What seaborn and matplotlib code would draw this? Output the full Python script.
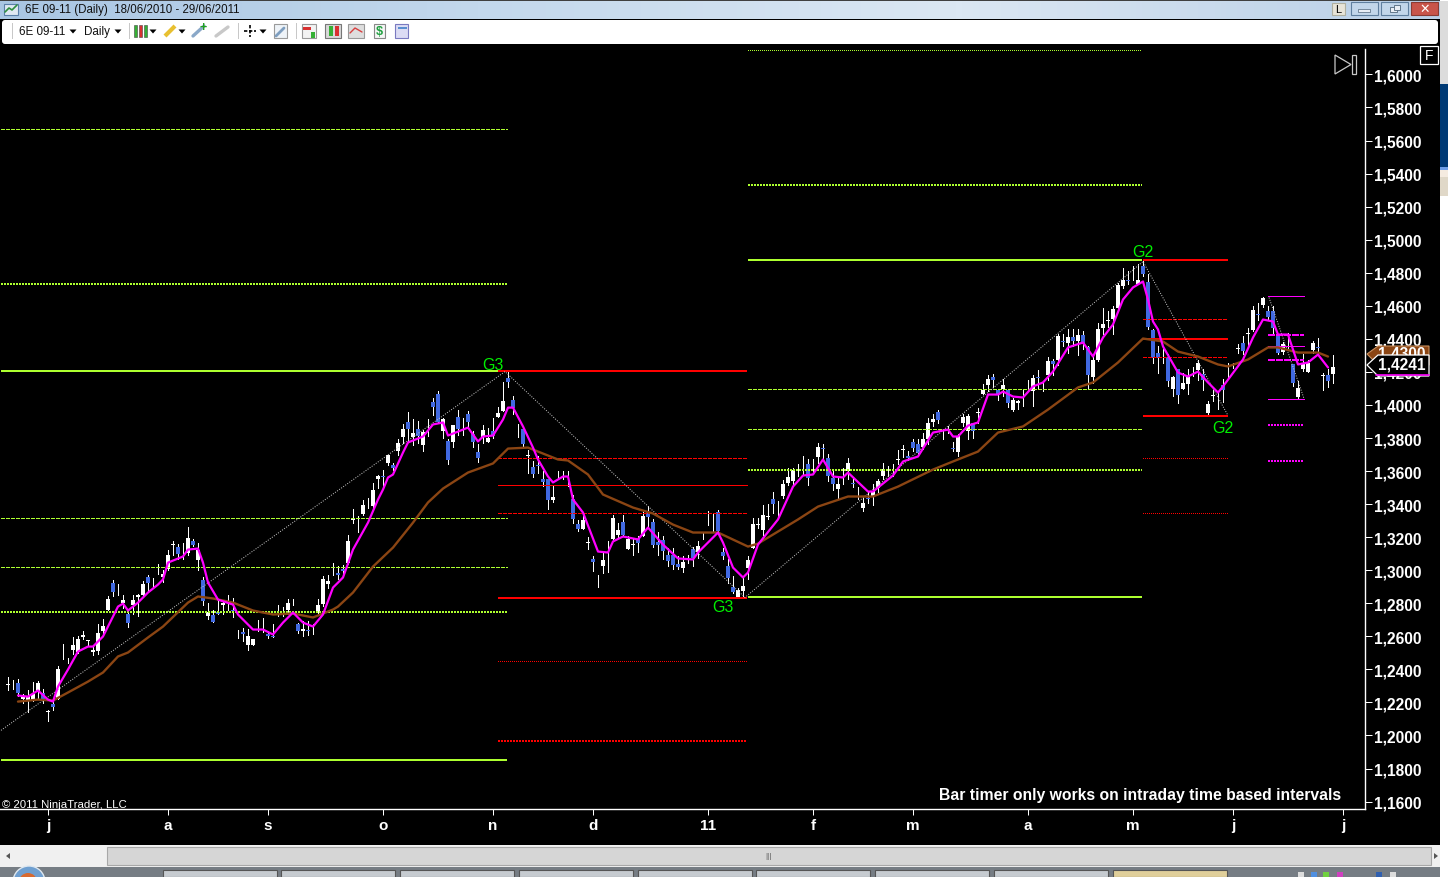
import numpy as np
import pandas as pd
import seaborn as sns
import matplotlib
matplotlib.use('Agg')
import matplotlib.pyplot as plt
from matplotlib.patches import Rectangle, Polygon, FancyBboxPatch

# -------------------------------------------------------
# 1. DATA - all prices in pips (1/10000), one entry per daily bar
# -------------------------------------------------------
opens = [12308,12308,12315,12218,12208,12214,12268,12258,12143,12190,12218,12505,12453,12520,12504,12595,12571,12508,12510,12635,
         12762,12920,12884,12799,12732,12791,12835,12853,12960,12924,13006,12956,13010,13154,13140,13115,13105,13178,13061,12938,
         12722,12728,12746,12791,12808,12760,12615,12625,12545,12545,12663,12670,12617,12601,12755,12750,12762,12807,12672,12631,
         12641,12640,12742,12793,12914,13010,12984,13010,13045,13305,13280,13343,13408,13388,13553,13571,13650,13636,13720,13805,
         13896,13807,13855,13755,13862,14017,14067,13841,13779,13775,13928,13870,13946,13827,13718,13807,13775,13845,13930,13962,
         14164,14033,13845,13857,13694,13626,13636,13549,13553,13424,13575,13576,13555,13428,13277,13252,13164,13065,12938,13028,
         13080,13190,13216,13293,13131,13154,13186,13210,13351,13289,13168,13182,13091,13091,13035,13012,13068,13131,13109,13206,
         13317,13295,13353,13109,13028,12897,12833,12873,13014,13135,13275,13246,13323,13428,13360,13448,13525,13539,13605,13637,
         13640,13627,13686,13737,13676,13559,13493,13570,13600,13527,13467,13374,13436,13452,13499,13573,13600,13605,13668,13729,
         13694,13775,13761,13747,13791,13896,13955,13825,13850,13739,13715,13888,13842,13888,13951,14068,14118,14172,14088,14094,
         14088,13969,14009,14040,14120,14084,14170,14110,14179,14263,14275,14384,14372,14413,14384,14421,14352,14171,14275,14463,
         14511,14521,14588,14719,14757,14800,14733,14840,14745,14451,14316,14295,14290,14098,14219,14098,14124,14203,14211,14185,
         13953,14056,14027,14118,14229,14237,14338,14376,14429,14451,14550,14606,14566,14566,14427,14322,14385,14245,14050,14215,
         14199,14330,14348,14177,14183,14185]
closes = [12310,12308,12258,12238,12238,12248,12315,12222,12147,12175,12403,12505,12453,12545,12581,12607,12575,12520,12621,12662,
          12823,12871,12884,12817,12678,12817,12847,12914,12920,12924,13010,12980,13095,13158,13101,13115,13196,13154,13125,12813,
          12746,12686,12738,12803,12808,12754,12615,12617,12601,12581,12663,12670,12601,12597,12755,12750,12803,12807,12631,12647,
          12631,12640,12787,12944,12932,13010,12974,12994,13176,13309,13280,13392,13408,13488,13569,13567,13696,13617,13767,13857,
          13857,13831,13815,13837,13862,13985,13898,13912,13666,13878,13855,13870,13898,13775,13682,13847,13801,13815,13952,14021,
          14138,13983,13845,13761,13698,13585,13632,13533,13422,13446,13575,13576,13555,13307,13250,13303,13168,13049,12942,13059,
          13080,13313,13246,13216,13186,13158,13162,13331,13321,13152,13152,13115,13053,13033,13020,13051,13068,13071,13146,13206,
          13317,13299,13236,13089,12954,12867,12883,12903,13059,13277,13279,13337,13327,13398,13360,13523,13565,13604,13605,13637,
          13559,13627,13747,13733,13569,13519,13519,13570,13650,13523,13467,13408,13432,13479,13539,13614,13600,13605,13672,13733,
          13682,13737,13707,13791,13888,13918,13906,13825,13850,13735,13812,13926,13933,13842,13955,14088,14158,14148,14060,14118,
          14009,14029,14023,14040,14120,14164,14166,14110,14265,14245,14417,14380,14413,14384,14421,14366,14179,14271,14457,14487,
          14515,14582,14723,14759,14753,14800,14759,14790,14471,14285,14285,14295,14144,14171,14058,14130,14171,14203,14255,14154,
          14003,14060,14031,14090,14233,14237,14342,14326,14433,14572,14546,14645,14532,14467,14316,14366,14385,14130,14100,14255,
          14255,14372,14344,14181,14144,14231]
highs = [12355,12333,12339,12252,12278,12325,12329,12282,12157,12218,12420,12551,12470,12597,12601,12635,12575,12541,12672,12706,
         12843,12938,12914,12853,12756,12853,12859,12934,12974,12954,13035,13004,13125,13178,13156,13166,13263,13186,13162,12960,
         12803,12762,12813,12813,12853,12833,12641,12651,12645,12581,12696,12712,12631,12672,12787,12779,12823,12823,12678,12692,
         12692,12672,12823,12964,12968,13045,13025,13031,13216,13373,13327,13422,13438,13525,13579,13605,13700,13650,13795,13882,
         13956,13912,13902,13851,13916,14043,14087,13922,13791,13878,13972,13922,13962,13841,13761,13876,13862,13922,13987,14138,
         14204,14053,13882,13862,13730,13660,13694,13599,13553,13509,13599,13603,13599,13458,13301,13327,13200,13089,12974,13115,
         13176,13337,13287,13337,13206,13186,13206,13351,13388,13307,13230,13206,13135,13135,13085,13085,13095,13141,13176,13226,
         13361,13343,13367,13135,13065,12964,12893,12964,13085,13317,13317,13397,13403,13475,13418,13543,13620,13620,13640,13694,
         13674,13674,13771,13761,13701,13610,13570,13620,13680,13559,13505,13438,13479,13523,13549,13650,13630,13640,13725,13757,
         13721,13795,13791,13832,13922,13947,13967,13852,13872,13775,13822,13947,13943,13892,13983,14128,14179,14185,14094,14158,
         14094,14043,14033,14090,14154,14179,14209,14134,14290,14279,14427,14427,14457,14457,14457,14447,14356,14296,14493,14588,
         14568,14598,14739,14826,14810,14840,14850,14880,14790,14457,14356,14336,14306,14175,14219,14195,14215,14231,14275,14215,
         14023,14090,14070,14158,14255,14251,14366,14417,14467,14598,14618,14655,14598,14598,14427,14380,14437,14245,14144,14306,
         14275,14386,14407,14191,14219,14300]
lows = [12274,12282,12238,12198,12141,12208,12218,12198,12087,12157,12218,12460,12436,12490,12500,12585,12541,12486,12490,12611,
        12762,12843,12853,12772,12655,12732,12722,12843,12873,12893,12980,12928,13004,13095,13065,13065,13095,13146,13000,12787,
        12702,12686,12738,12736,12762,12718,12589,12571,12520,12545,12631,12627,12591,12595,12722,12722,12732,12791,12621,12601,
        12607,12611,12742,12783,12893,12974,12944,12964,13035,13287,13230,13333,13377,13377,13498,13498,13634,13605,13700,13771,
        13781,13757,13771,13720,13811,13942,13892,13801,13642,13745,13821,13821,13862,13745,13654,13771,13775,13801,13928,13962,
        14110,13948,13807,13740,13589,13565,13589,13509,13373,13412,13549,13549,13509,13287,13240,13252,13131,12994,12897,12984,
        12988,13186,13202,13206,13131,13091,13109,13206,13267,13141,13091,13069,13028,13008,13010,12990,13041,13024,13071,13186,
        13273,13236,13236,13065,12924,12863,12833,12833,12944,13135,13256,13216,13307,13348,13307,13438,13513,13519,13570,13580,
        13513,13580,13650,13680,13539,13485,13432,13519,13549,13505,13428,13358,13408,13394,13473,13549,13570,13570,13640,13686,
        13666,13721,13691,13731,13761,13872,13892,13795,13828,13721,13694,13872,13795,13801,13892,14064,14084,14110,14033,14054,
        13989,13963,13973,13993,14084,13993,14104,14084,14150,14179,14239,14356,14312,14356,14300,14336,14094,14134,14265,14427,
        14473,14427,14578,14709,14729,14759,14729,14780,14457,14255,14195,14255,14114,14054,14009,14094,14064,14175,14154,14090,
        13943,14023,13977,14017,14164,14223,14316,14306,14356,14447,14517,14594,14517,14437,14306,14306,14336,14114,14043,14205,
        14199,14316,14316,14090,14108,14130]

fast_bars = [2,4,6,8,9,10,12,14,16,17,19,22,23,24,26,28,30,31,32,35,36,38,39,40,42,45,46,49,51,53,55,57,59,61,63,65,66,67,69,72,
             74,75,76,77,79,80,83,85,87,88,92,94,95,97,99,100,101,103,105,106,108,109,111,112,113,115,118,120,121,123,126,128,131,
             134,137,138,142,143,145,147,148,150,154,157,159,161,163,165,167,168,172,173,177,179,182,185,188,189,190,192,194,196,
             198,199,201,203,205,207,209,212,215,217,219,221,223,225,227,228,229,230,231,234,236,238,240,242,243,247,249,251,253,
             254,256,258,260,262,264]
fast_ma = [12242,12235,12272,12217,12205,12296,12399,12508,12538,12538,12599,12780,12798,12756,12804,12865,12913,12944,13046,13083,
           13125,13131,13046,12925,12822,12792,12732,12641,12641,12611,12683,12744,12683,12659,12732,12895,12925,12956,13125,13288,
           13428,13488,13561,13579,13712,13773,13809,13882,13894,13815,13863,13779,13809,13815,13912,13984,13984,13870,13742,13670,
           13567,13531,13567,13567,13428,13349,13113,13107,13174,13204,13186,13258,13155,13071,13065,13107,13228,13167,13016,12956,
           12986,13155,13307,13506,13573,13579,13670,13567,13561,13591,13476,13476,13573,13658,13688,13833,13851,13809,13809,13875,
           13894,14063,14063,14081,14051,14045,14112,14136,14202,14348,14378,14293,14408,14487,14638,14711,14747,14638,14505,14457,
           14354,14196,14172,14202,14136,14075,14112,14275,14408,14517,14505,14426,14426,14245,14257,14305,14227]

slow_bars = [2,6,9,12,16,19,22,24,28,31,36,38,41,45,49,53,57,61,65,66,69,73,77,81,84,87,92,97,100,104,106,110,112,116,119,125,129,
             133,137,142,148,150,158,162,168,173,178,185,189,194,198,203,208,214,217,222,227,231,234,238,242,244,248,252,254,258,262,264]
slow_ma = [12205,12217,12211,12260,12326,12381,12478,12502,12593,12659,12804,12841,12829,12804,12756,12732,12738,12714,12762,12780,
           12865,13022,13137,13288,13410,13494,13591,13646,13736,13742,13718,13670,13664,13579,13458,13379,13343,13276,13228,13228,
           13143,13161,13307,13385,13446,13446,13506,13609,13658,13718,13833,13870,13972,14106,14136,14257,14402,14384,14323,14293,
           14245,14233,14275,14348,14348,14317,14317,14293]

zigzag_bars = [-2,99.4,147.4,227,244]
zigzag_prices = [12018,14202,12835,14868,13936]
last_leg_bars = [252.2,259.2]
last_leg_prices = [14650,14039]

# (first bar, last bar, level colour, [(price, style), ...])
GREEN = '#adff2f'
RED = '#ff0000'
PINK = '#ff00ff'
level_sets = [
    (-1.4, 99.8, GREEN, [(15667,'dash'),(14729,'dots'),(14208,'solid'),(13313,'dash'),(13022,'dash'),(12750,'dots'),(11854,'solid')]),
    (98, 147.8, RED, [(14208,'solid'),(13682,'dash'),(13518,'thin'),(13349,'dash'),(12829,'solid'),(12453,'fine'),(11969,'dots')]),
    (148, 226.8, GREEN, [(16145,'fine'),(15334,'dots'),(14880,'solid'),(14099,'dash'),(13857,'dash'),(13609,'dots'),(12835,'solid')]),
    (227, 244, RED, [(14880,'solid'),(14523,'dash'),(14402,'solid'),(14293,'dash'),(13936,'solid'),(13676,'fine'),(13349,'fine')]),
    (252, 259.2, PINK, [(14662,'thin'),(14426,'heavy'),(14354,'thin'),(14275,'heavy'),(14039,'thin'),(13876,'dots'),(13658,'dots')]),
]
level_styles = {
    'solid': dict(linewidths=1.44, linestyles='solid'),
    'thin': dict(linewidths=0.72, linestyles='solid'),
    'dash': dict(linewidths=0.72, linestyles=[(0, (4, 1.5))]),
    'heavy': dict(linewidths=1.44, linestyles=[(0, (3, 1))]),
    'dots': dict(linewidths=1.44, linestyles=[(0, (1, 1))]),
    'fine': dict(linewidths=0.72, linestyles=[(0, (1, 2))]),
}

gann_labels = [('G3', 97, 14242), ('G3', 143, 12778), ('G2', 227, 14926), ('G2', 243, 13864)]

price_ticks = list(range(11600, 16001, 200))
month_ticks = [8, 32, 52, 75, 97, 117, 140, 161, 181, 204, 225, 245, 267]
month_labels = ['j', 'a', 's', 'o', 'n', 'd', '11', 'f', 'm', 'a', 'm', 'j', 'j']

bars = pd.DataFrame({'open': opens, 'close': closes, 'high': highs, 'low': lows})
bars['bar'] = bars.index
bars['top'] = bars[['open', 'close']].max(axis=1)
bars['bottom'] = bars[['open', 'close']].min(axis=1)

# -------------------------------------------------------
# 2. PRICE PANEL
# -------------------------------------------------------
W, H = 1448, 878
sns.set_theme(style='dark', rc={'axes.facecolor': 'black', 'figure.facecolor': 'black'})
plt.rcParams['font.family'] = ['Liberation Sans', 'DejaVu Sans']

fig = plt.figure(figsize=(W / 100, H / 100), dpi=100)
ax = fig.add_axes([0, (H - 810) / H, 1365 / W, (810 - 50) / H])
ax.set_xlim(-1.6, 271.4)
ax.set_ylim(11555, 16154)

ax.vlines(bars['bar'], bars['low'], bars['high'], color='white', lw=0.72, antialiased=False, zorder=2)
has_body = bars[bars['open'] != bars['close']]
body_colors = np.where(has_body['close'] < has_body['open'], '#4169e1', 'white')
ax.bar(has_body['bar'], has_body['top'] - has_body['bottom'], bottom=has_body['bottom'],
       width=0.72, color=body_colors, linewidth=0, antialiased=False, zorder=3)

for start, end, color, levels in level_sets:
    for price, style in levels:
        ax.hlines(price, start, end, color=color, antialiased=False, zorder=4, **level_styles[style])

for xs, ys in [(zigzag_bars, zigzag_prices), (last_leg_bars, last_leg_prices)]:
    ax.plot(xs, ys, color='#c8c8c8', lw=0.72, ls=(0, (1, 1.5)), zorder=4)

sns.lineplot(x=slow_bars, y=slow_ma, color='#8b4513', lw=1.7, ax=ax, zorder=5, estimator=None)
sns.lineplot(x=fast_bars, y=fast_ma, color='#ff00ff', lw=1.6, ax=ax, zorder=6, estimator=None)

for label, bar, price in gann_labels:
    ax.text(bar, price, label, color='#00f000', fontsize=11.5, ha='center', va='center', zorder=7)

ax.text(266.6, 11644, 'Bar timer only works on intraday time based intervals', color='white',
        fontsize=11.37, fontweight='bold', ha='right', va='center')
ax.text(-1.2, 11588, '\u00a9 2011 NinjaTrader, LLC', color='white', fontsize=8.2, ha='left', va='center')

ax.yaxis.tick_right()
ax.set_yticks(price_ticks)
ax.set_yticklabels(['{:.4f}'.format(p / 10000).replace('.', ',') for p in price_ticks],
                   color='white', fontsize=11.2, fontweight='bold')
ax.set_xticks(month_ticks)
ax.set_xticklabels(month_labels, color='white', fontsize=11, fontweight='bold')
ax.tick_params(axis='y', length=5, width=0.72, color='white', pad=1.6, right=True, left=False)
ax.tick_params(axis='x', length=4, width=0.72, color='white', pad=2.2, bottom=True)
ax.grid(False)
for side in ['top', 'left']:
    ax.spines[side].set_visible(False)
for side in ['right', 'bottom']:
    ax.spines[side].set_color('white')
    ax.spines[side].set_linewidth(1)

# -------------------------------------------------------
# 3. WINDOW FURNITURE, drawn in pixels over the whole figure
# -------------------------------------------------------
ui = fig.add_axes([0, 0, 1, 1], zorder=10)
ui.set_xlim(0, W)
ui.set_ylim(H, 0)
ui.axis('off')
ui.patch.set_alpha(0)


def box(x, y, w, h, color, edge='none', lw=0.8, z=1):
    ui.add_patch(Rectangle((x, y), w, h, facecolor=color, edgecolor=edge, linewidth=lw, zorder=z))


# title bar + toolbar
ui.imshow(np.linspace(0, 1, 256).reshape(1, -1), extent=(0, 1440, 20, 0), aspect='auto', zorder=0,
          cmap=matplotlib.colors.LinearSegmentedColormap.from_list('bar', ['#a9c6e3', '#c3d8ec', '#dbe7f3', '#b9cfe6']))
ui.set_xlim(0, W)
ui.set_ylim(H, 0)
box(0, 0, W, 1.5, '#404040')
ui.add_patch(FancyBboxPatch((2, 21), 1436, 24, boxstyle='round,pad=0,rounding_size=3', facecolor='white', edgecolor='none'))
ui.text(25, 10, '6E 09-11 (Daily)  18/06/2010 - 29/06/2011', fontsize=8.3, color='#111111', va='center')
ui.text(19, 32, '6E 09-11', fontsize=8.4, color='#111111', va='center')
ui.text(84, 32, 'Daily', fontsize=8.4, color='#111111', va='center')
for x in [73, 118, 153, 182, 263]:
    ui.add_patch(Polygon([(x - 3.5, 30.5), (x + 3.5, 30.5), (x, 34.5)], facecolor='black', edgecolor='none', zorder=2))
for x in [12, 129, 238, 296]:
    box(x, 24, 1, 16, '#c8c8c8')

# toolbar icons
box(4, 5, 14, 11, '#dfe8f2', '#5a7fa8')
ui.plot([5, 9, 12, 17], [13, 9, 11, 6], color='#2f8f3f', lw=1.2)
for x, c in [(134, '#35b035'), (139, '#d83030'), (144, '#35b035')]:
    box(x, 26, 3, 12, c, '#444444', 0.4)
ui.plot([165, 175], [37, 27], color='#e8c030', lw=3, solid_capstyle='butt')
ui.plot([193, 204], [37, 27], color='#8aa8c8', lw=2.4)
ui.text(203, 28, '+', color='#20a020', fontsize=9, fontweight='bold', ha='center', va='center')
ui.plot([216, 228], [37, 28], color='#c8c8c8', lw=2.4)
ui.plot([244, 256], [32, 32], color='black', lw=1.2, ls=(0, (2, 1)))
ui.plot([250, 250], [26, 38], color='black', lw=1.2, ls=(0, (2, 1)))
box(274, 25, 13, 14, '#eef3f8', '#9a9a9a')
ui.plot([276, 284], [37, 29], color='#7f9fc0', lw=2)
box(302, 25, 14, 14, '#f2f2f2', '#999999')
box(303, 28, 8, 3, '#d83030')
box(311, 33, 4, 6, '#35b035')
box(325, 25, 16, 14, '#d8d8d8', '#777777')
box(329, 27, 3.5, 10, '#35b035')
box(335, 27, 3.5, 10, '#d83030')
box(348, 25, 16, 14, '#dedede', '#999999')
ui.plot([350, 355, 362], [34, 29, 33], color='#d84040', lw=1)
box(374, 25, 11, 14, '#f6f6f6', '#888888')
ui.text(379.5, 32, '$', color='#20a040', fontsize=9, fontweight='bold', ha='center', va='center')
box(395, 25, 13, 14, '#dcdcf4', '#7a7ac0')
box(398, 28, 9, 2, '#5a8fd0')

# window buttons
box(1332, 4, 13, 12, '#e8e4d8', '#b0b0a0')
ui.text(1338.5, 10, 'L', fontsize=8, color='black', ha='center', va='center')
box(1351, 3, 27, 13, '#c2d6ea', '#5f7f9f')
box(1358, 10, 12, 3, '#e8eef5', '#50667c', 0.5)
box(1381, 3, 27, 13, '#c2d6ea', '#5f7f9f')
box(1390, 8, 7, 5, '#e8eef5', '#50667c', 0.6)
box(1394, 6, 6, 5, '#e8eef5', '#50667c', 0.6)
box(1411, 3, 27, 13, '#c8544a', '#8a3a33')
ui.text(1424.5, 9.5, '\u2715', fontsize=9, color='white', fontweight='bold', ha='center', va='center', family='DejaVu Sans')

# right of the panel: price tags, F box, end-of-chart marker
tag_brown = [(1367, 355), (1378, 347), (1429, 347), (1429, 366), (1378, 366)]
ui.add_patch(Polygon(tag_brown, facecolor='#8b4513', edgecolor='#c89060', linewidth=0.8))
ui.text(1378, 354.5, '1,4300', fontsize=11.2, color='white', fontweight='bold', va='center')
tag_black = [(1367, 366), (1378, 356), (1429, 356), (1429, 377), (1378, 377)]
ui.add_patch(Polygon(tag_black, facecolor='black', edgecolor='white', linewidth=0.9, zorder=3))
ui.plot([1376, 1429], [376, 376], color='#ff00ff', lw=1.2, zorder=4)
ui.text(1378, 365.5, '1,4241', fontsize=11.2, color='white', fontweight='bold', va='center', zorder=5)
box(1420, 47, 18, 18, 'black', 'white', 0.9)
ui.text(1429, 56, 'F', fontsize=10, color='white', ha='center', va='center')
ui.add_patch(Polygon([(1335, 56), (1335, 75), (1351, 65.5)], facecolor='none', edgecolor='#c8c8c8', linewidth=0.9))
box(1352, 56, 4, 19, 'none', '#c8c8c8', 0.9)

# desktop showing past the window's right edge
box(1440, 0, 8, H, 'white')
box(1440, 2, 8, 83, '#dcdcdc')
box(1440, 85, 8, 83, '#003a75')
box(1440, 168, 8, 3, '#6f9fe8')
box(1440, 171, 8, 7, '#f5ebe0')
box(1440, 178, 8, 19, '#e0d8c8')

# scroll bar + task bar
box(0, 846, 1440, 22, '#f0f0f0')
box(107, 848, 1324, 18, '#d6d6d6', '#a8a8a8')
ui.text(768, 857, '|||', fontsize=6, color='#555555', ha='center', va='center')
ui.add_patch(Polygon([(6, 857), (10, 854), (10, 860)], facecolor='#555555', edgecolor='none', zorder=2))
ui.add_patch(Polygon([(1438, 857), (1434, 854), (1434, 860)], facecolor='#555555', edgecolor='none', zorder=2))
box(0, 868, 1440, 10, '#767d84')
for x in [163, 281, 400, 519, 638, 756, 875, 994]:
    box(x, 871, 114, 7, '#c6cbd0', '#555555')
box(1113, 871, 114, 7, '#e0cf9a', '#555555')
for x, c in [(1298, '#dddddd'), (1311, '#4f8fe0'), (1323, '#70d040'), (1337, '#d040c0'), (1376, '#3060b0'), (1390, '#dddddd')]:
    box(x, 873, 6, 5, c)
ui.add_patch(plt.Circle((29, 883), 16, facecolor='#6f9fd0', edgecolor='#dfe8f0', linewidth=1))
ui.add_patch(plt.Circle((28, 883), 9, facecolor='#d86a30', edgecolor='none'))

fig.savefig('out.png', dpi=100, facecolor='black')
